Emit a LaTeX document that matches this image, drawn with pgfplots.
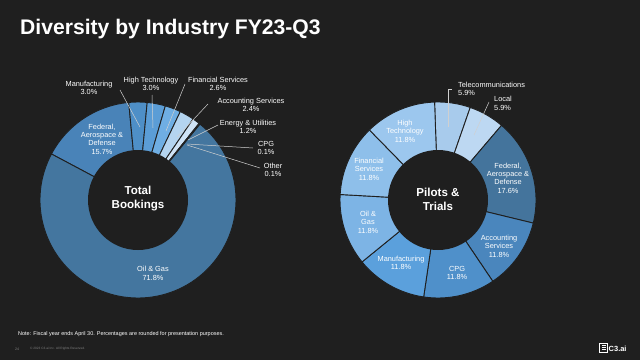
\documentclass[border=0pt]{standalone}
\usepackage{pgfplots}
\usepackage{pgfplotstable}
\pgfplotsset{compat=1.18}
\usepackage{fontspec}
\setmainfont{Liberation Sans}
\definecolor{bg}{HTML}{1F1F1F}
\definecolor{lead}{HTML}{D0D0D0}
% left donut colours
\definecolor{loil}{HTML}{44769F}
\definecolor{lfed}{HTML}{4983B8}
\definecolor{lman}{HTML}{4E8FC7}
\definecolor{lht}{HTML}{5B9DD6}
\definecolor{lfin}{HTML}{6FAEE3}
\definecolor{lacc}{HTML}{B4D4F0}
\definecolor{leng}{HTML}{CFE3F6}
\definecolor{lcpg}{HTML}{D8E8F8}
\definecolor{loth}{HTML}{E2EEFA}
% right donut colours
\definecolor{rtel}{HTML}{A8CBEC}
\definecolor{rloc}{HTML}{BDD8F2}
\definecolor{rfed}{HTML}{44749C}
\definecolor{racc}{HTML}{4A86BD}
\definecolor{rcpg}{HTML}{4F90CA}
\definecolor{rman}{HTML}{5BA0DC}
\definecolor{roil}{HTML}{7DB4E5}
\definecolor{rfin}{HTML}{8EBFEA}
\definecolor{rht}{HTML}{9CC7EE}

\pgfplotstableread[col sep=comma]{
name,value,color
Federal,15.7,lfed
Manufacturing,3.0,lman
HighTechnology,3.0,lht
FinancialServices,2.6,lfin
AccountingServices,2.4,lacc
EnergyUtilities,1.2,leng
CPG,0.1,lcpg
Other,0.1,loth
OilGas,71.8,loil
}\lefttab

\pgfplotstableread[col sep=comma]{
name,value,color
Telecommunications,5.9,rtel
Local,5.9,rloc
Federal,17.6,rfed
AccountingServices,11.8,racc
CPG,11.8,rcpg
Manufacturing,11.8,rman
OilGas,11.8,roil
FinancialServices,11.8,rfin
HighTechnology,11.8,rht
}\righttab

% compute wedge angles: #1 table, #2 prefix, #3 start angle (clockwise)
\def\computewedges#1#2#3{%
  \pgfplotstablegetrowsof{#1}\pgfmathtruncatemacro\lastrow{\pgfplotsretval-1}%
  \def\tot{0}%
  \pgfplotsforeachungrouped \i in {0,...,\lastrow}{%
    \pgfplotstablegetelem{\i}{value}\of#1%
    \pgfmathsetmacro\tot{\tot+\pgfplotsretval}}%
  \def\cur{#3}%
  \pgfplotsforeachungrouped \i in {0,...,\lastrow}{%
    \pgfplotstablegetelem{\i}{value}\of#1%
    \pgfmathsetmacro\nxt{\cur-\pgfplotsretval/\tot*360}%
    \expandafter\xdef\csname #2a\i\endcsname{\cur}%
    \expandafter\xdef\csname #2b\i\endcsname{\nxt}%
    \pgfplotstablegetelem{\i}{color}\of#1%
    \expandafter\xdef\csname #2c\i\endcsname{\pgfplotsretval}%
    \let\cur\nxt}%
}
\computewedges{\lefttab}{L}{152}
\computewedges{\righttab}{R}{92}

\newcommand\lab{\fontsize{7.4}{8.4}\selectfont}

\begin{document}
\begin{tikzpicture}
\begin{axis}[
  width=640bp, height=360bp, scale only axis,
  xmin=0, xmax=640, ymin=0, ymax=360,
  hide axis, clip=false,
]
\fill[bg] (axis cs:0,0) rectangle (axis cs:640,360);

% left donut
\pgfplotsinvokeforeach{0,...,8}{
  \filldraw[fill=\csname Lc#1\endcsname, draw=bg, line width=0.9bp]
    (axis cs:138,160) -- ++(\csname La#1\endcsname:98bp)
    arc[start angle=\csname La#1\endcsname, end angle=\csname Lb#1\endcsname, radius=98bp] -- cycle;
}
\fill[bg] (axis cs:138,160) circle[radius=50bp];

% right donut
\pgfplotsinvokeforeach{0,...,8}{
  \filldraw[fill=\csname Rc#1\endcsname, draw=bg, line width=0.9bp]
    (axis cs:438,160) -- ++(\csname Ra#1\endcsname:98bp)
    arc[start angle=\csname Ra#1\endcsname, end angle=\csname Rb#1\endcsname, radius=98bp] -- cycle;
}
\fill[bg] (axis cs:438,160) circle[radius=50bp];

% title
\node[anchor=base west, text=white, font=\bfseries\fontsize{21.2}{25}\selectfont, inner sep=0]
  at (axis cs:20,326) {Diversity by Industry FY23-Q3};

% centre texts
\node[text=white, align=center, font=\bfseries\fontsize{11.6}{14}\selectfont] at (axis cs:138,161) {Total\\Bookings};
\node[text=white, align=center, font=\bfseries\fontsize{11.6}{14}\selectfont] at (axis cs:438,161) {Pilots \&\\Trials};

% left leader lines
\draw[lead, line width=0.5bp] (axis cs:120,270) -- (axis cs:140,233);
\draw[lead, line width=0.5bp] (axis cs:152,265) -- (axis cs:153,232);
\draw[lead, line width=0.5bp] (axis cs:185,276) -- (axis cs:166,229);
\draw[lead, line width=0.5bp] (axis cs:208,256) -- (axis cs:177,223);
\draw[lead, line width=0.5bp] (axis cs:218,235) -- (axis cs:188,220);
\draw[lead, line width=0.5bp] (axis cs:253,212) -- (axis cs:187,216);
\draw[lead, line width=0.5bp] (axis cs:260,192) -- (axis cs:187,215);

% left labels
\begin{scope}[every node/.style={text=white, align=center, font=\lab, inner sep=0}]
\node at (axis cs:89,272) {Manufacturing\\3.0\%};
\node at (axis cs:151,276) {High Technology\\3.0\%};
\node at (axis cs:218,276) {Financial Services\\2.6\%};
\node at (axis cs:251,255) {Accounting Services\\2.4\%};
\node at (axis cs:248,233) {Energy \& Utilities\\1.2\%};
\node at (axis cs:266,212) {CPG\\0.1\%};
\node at (axis cs:273,190) {Other\\0.1\%};
\node at (axis cs:102,221) {Federal,\\Aerospace \&\\Defense\\15.7\%};
\node at (axis cs:153,86.5) {Oil \& Gas\\71.8\%};
% right labels
\node[anchor=west, align=left] at (axis cs:458,271) {Telecommunications\\5.9\%};
\node[anchor=west, align=left] at (axis cs:494,256.5) {Local\\5.9\%};
\node at (axis cs:405,229) {High\\Technology\\11.8\%};
\node at (axis cs:369,191) {Financial\\Services\\11.8\%};
\node at (axis cs:508,182) {Federal,\\Aerospace \&\\Defense\\17.6\%};
\node at (axis cs:499,114) {Accounting\\Services\\11.8\%};
\node at (axis cs:457,87) {CPG\\11.8\%};
\node at (axis cs:401,97) {Manufacturing\\11.8\%};
\node at (axis cs:368,138) {Oil \&\\Gas\\11.8\%};
\end{scope}

% right leader lines
\draw[lead, line width=0.5bp] (axis cs:452,271) -- (axis cs:448,271) -- (axis cs:448,233);
\draw[lead, line width=0.5bp] (axis cs:489,258) -- (axis cs:474,225);

% footer
\node[anchor=west, text=white, font=\fontsize{5.5}{6}\selectfont, inner sep=0] at (axis cs:18,26)
  {Note: Fiscal year ends April 30. Percentages are rounded for presentation purposes.};
\node[anchor=west, text=gray, font=\fontsize{3.6}{4}\selectfont, inner sep=0] at (axis cs:15,11) {24};
\node[anchor=west, text=gray, font=\fontsize{3.2}{4}\selectfont, inner sep=0] at (axis cs:30,11)
  {\textcopyright{} 2023 C3.ai Inc. All Rights Reserved.};
% logo
\draw[white, line width=0.8bp] (axis cs:599.5,8) rectangle (axis cs:607.5,17);
\draw[white, line width=0.7bp] (axis cs:601.5,10.5) -- (axis cs:605.5,10.5) (axis cs:601.5,12.5) -- (axis cs:605.5,12.5) (axis cs:601.5,14.5) -- (axis cs:605.5,14.5);
\node[anchor=west, text=white, font=\bfseries\fontsize{7.5}{8}\selectfont, inner sep=0] at (axis cs:608.5,11.5) {C3.ai};
\end{axis}
\end{tikzpicture}
\end{document}
